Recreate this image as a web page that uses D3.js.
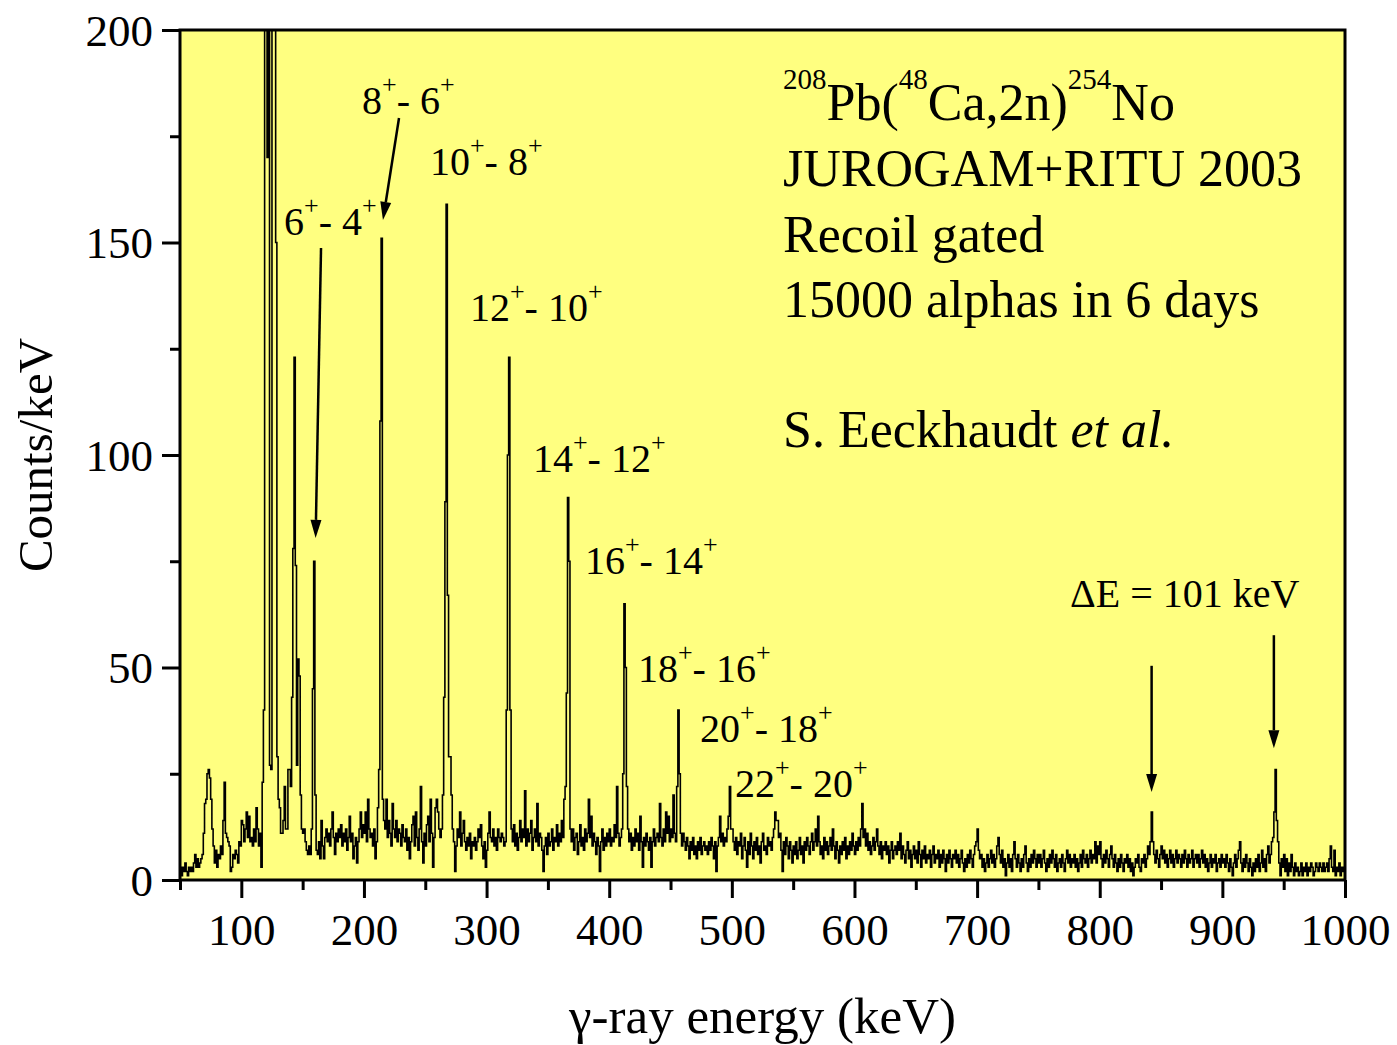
<!DOCTYPE html>
<html>
<head>
<meta charset="utf-8">
<script src="https://cdn.jsdelivr.net/npm/d3@7/dist/d3.min.js"></script>
<style>
    body { margin: 0; background: #ffffff; }
    text { font-family: 'Liberation Serif', 'Times New Roman', serif; fill: #000; }
</style>
</head>
<body>
<svg id="chart" width="1397" height="1045"></svg>
<script>
// spectrum, 1 keV bins, counts per bin starting at 50 keV
var counts050 = [3,1,3,2,4,2,1,3,2,3, 2,4,6,3,5,3,4,5,6,11, 18,19,25,26,24,19,12,8,4,7, 3,6,5,8,6,14,23,11,10,9, 8,2,3,6,5,7,6,4,9,8];
var counts100 = [14,13,9,12,16,10,15,9,10,8, 12,9,17,12,8,11,3,23,40,260, 260,170,260,27,26,260,260,260,150,29, 19,17,11,11,14,22,12,12,26,26, 22,43,78,123,74,27,52,48,20,12];
var counts150 = [11,12,9,7,6,8,6,12,45,75, 20,7,6,9,5,14,8,5,10,12, 9,11,8,12,16,10,6,11,9,12, 10,13,8,11,9,12,7,10,15,9, 11,5,8,10,4,9,12,16,10,13];
var counts200 = [11,16,9,19,12,10,11,8,12,5, 9,17,26,108,151,19,14,12,19,10, 14,11,8,18,12,10,14,9,12,11, 8,13,10,9,12,7,10,5,9,13, 15,8,16,10,7,12,22,9,4,11];
var counts250 = [8,13,15,9,19,11,3,10,17,19, 16,12,10,12,20,43,89,159,67,29, 29,20,12,9,2,8,12,10,16,8, 11,14,9,7,10,8,11,5,9,8, 10,7,9,12,10,13,8,5,9,3];
var counts300 = [7,11,16,10,9,12,8,10,7,12, 10,9,11,10,8,9,40,100,123,40, 12,9,13,8,11,7,10,14,9,12, 10,21,8,12,9,11,14,7,10,12, 9,18,8,11,10,7,2,8,10,6];
var counts350 = [11,8,9,12,7,10,9,13,8,11, 9,14,10,19,22,44,90,75,12,9, 12,7,10,11,6,9,13,8,10,7, 12,9,11,19,10,15,8,11,9,6, 10,8,2,9,12,7,10,8,11,9];
var counts400 = [12,8,10,9,13,10,22,11,8,10, 12,25,65,50,22,12,9,11,7,10, 8,12,9,11,7,15,9,3,10,8, 11,9,7,10,3,9,12,8,10,11, 9,18,10,8,12,9,16,11,15,9];
var counts450 = [12,10,20,11,9,22,40,25,11,8, 11,9,7,10,8,5,9,7,10,6, 8,5,9,7,10,6,8,9,7,8, 6,9,7,10,8,5,9,2,8,10, 15,9,11,8,10,9,12,15,22,12];
var counts500 = [12,9,7,10,6,9,8,11,5,8, 10,7,3,9,6,11,8,5,9,7, 10,6,8,4,9,11,7,8,6,10, 8,9,7,10,12,16,14,14,10,11, 7,2,9,6,10,8,5,9,7,4];
var counts550 = [8,6,9,5,7,10,6,8,4,9, 7,10,8,6,9,11,7,9,12,8, 15,9,6,8,5,10,7,9,6,8, 10,7,12,8,5,9,7,4,8,6, 9,7,10,5,8,6,9,7,11,8];
var counts600 = [6,9,7,10,8,12,18,10,12,8, 11,7,9,6,8,10,7,9,12,8, 6,9,5,8,7,9,6,8,4,7, 9,5,7,8,6,9,7,11,5,8, 6,4,7,9,5,7,3,6,8,5];
var counts650 = [7,4,9,6,3,7,5,8,4,6, 5,7,3,6,8,4,6,5,7,3, 6,4,7,5,2,6,4,7,5,3, 6,5,7,4,6,3,5,7,4,2, 5,3,6,4,7,5,3,6,8,9];
var counts700 = [12,7,5,6,3,5,2,4,6,3, 5,7,4,6,3,5,8,10,6,4, 7,3,5,1,4,6,3,5,2,6, 9,5,3,6,4,2,5,3,6,8, 4,2,5,3,6,4,7,5,3,6];
var counts750 = [4,6,3,5,7,4,2,5,3,6, 4,7,5,3,6,2,4,5,3,6, 4,2,5,7,4,6,3,5,4,6, 3,5,2,4,6,3,7,5,4,6, 3,5,7,4,6,5,9,4,8,6];
var counts800 = [9,5,3,6,4,7,5,3,6,8, 5,3,6,4,2,5,3,6,4,2, 5,4,6,3,5,2,4,1,3,5, 4,6,3,2,5,4,6,3,5,8, 6,9,16,9,6,4,7,5,3,6];
var counts850 = [8,5,7,4,6,3,5,7,4,6, 3,5,7,4,6,5,3,6,4,7, 5,3,6,4,5,7,3,5,6,4, 6,3,5,7,4,6,3,5,2,4, 6,3,5,4,6,2,4,5,3,6];
var counts900 = [4,5,3,6,4,2,5,3,1,4, 6,3,5,7,9,4,2,5,3,6, 4,2,5,3,1,4,2,5,3,6, 2,4,7,3,5,2,6,8,4,6, 9,10,16,26,14,9,4,1,5,3];
var counts950 = [6,2,5,1,4,2,6,3,1,4, 2,3,1,2,4,1,3,2,4,1, 3,2,4,3,1,2,4,3,2,4, 3,2,4,2,3,4,2,5,8,3, 2,7,1,3,2,4,1,3,2,3];

var energyStart = 50;
var counts = [].concat(counts050, counts100, counts150, counts200, counts250, counts300,
    counts350, counts400, counts450, counts500, counts550, counts600, counts650,
    counts700, counts750, counts800, counts850, counts900, counts950);

var xMajorTicks = [100, 200, 300, 400, 500, 600, 700, 800, 900, 1000];
var xMinorTicks = [50, 150, 250, 350, 450, 550, 650, 750, 850, 950];
var yMajorTicks = [0, 50, 100, 150, 200];
var yMinorTicks = [25, 75, 125, 175];

// yrast band transitions: upper spin, lower spin
var transitions = [
    ['6', '4'], ['8', '6'], ['10', '8'], ['12', '10'], ['14', '12'],
    ['16', '14'], ['18', '16'], ['20', '18'], ['22', '20']
];

var infoLines = ['JUROGAM+RITU 2003', 'Recoil gated', '15000 alphas in 6 days'];

// set the dimensions and margins of the graph
var margin = { top: 30, right: 52, bottom: 165, left: 180 };
var width = 1397 - margin.left - margin.right;
var height = 1045 - margin.top - margin.bottom;

var x = d3.scaleLinear().domain([50, 1000]).range([0, width]);
var y = d3.scaleLinear().domain([0, 200]).range([height, 0]);

var svg = d3.select('#chart');

svg.append('defs').append('clipPath')
    .attr('id', 'clip')
    .append('rect')
    .attr('width', width)
    .attr('height', height);

var graph = svg.append('g')
    .attr('transform', 'translate(' + margin.left + ',' + margin.top + ')');

graph.append('rect')
    .attr('width', width)
    .attr('height', height)
    .attr('fill', '#ffff80');

// spectrum as a step line
var points = counts.map(function (c, i) { return { e: energyStart + i, c: c }; });
points.push({ e: 1000, c: counts[counts.length - 1] });

var line = d3.line()
    .curve(d3.curveStepAfter)
    .x(function (d) { return x(d.e); })
    .y(function (d) { return y(d.c); });

graph.append('path')
    .datum(points)
    .attr('clip-path', 'url(#clip)')
    .attr('fill', 'none')
    .attr('stroke', '#000')
    .attr('stroke-width', 1.6)
    .attr('d', line);

// axes
function styleAxis(g) {
    g.select('.domain').remove();
    g.selectAll('line').attr('stroke', '#000').attr('stroke-width', 3);
    g.selectAll('text').style('font-size', '45px').attr('fill', '#000');
}

graph.append('g')
    .attr('transform', 'translate(0,' + height + ')')
    .call(d3.axisBottom(x).tickValues(xMinorTicks).tickSize(10).tickFormat(''))
    .call(styleAxis);

var xAxisG = graph.append('g')
    .attr('transform', 'translate(0,' + height + ')')
    .call(d3.axisBottom(x).tickValues(xMajorTicks).tickSize(18).tickFormat(d3.format('d')))
    .call(styleAxis);
xAxisG.selectAll('text').attr('y', 65).attr('dy', 0);

graph.append('g')
    .call(d3.axisLeft(y).tickValues(yMinorTicks).tickSize(10).tickFormat(''))
    .call(styleAxis);

var yAxisG = graph.append('g')
    .call(d3.axisLeft(y).tickValues(yMajorTicks).tickSize(18).tickFormat(d3.format('d')))
    .call(styleAxis);
yAxisG.selectAll('text').attr('x', -27).attr('dy', '0.34em');

// frame
graph.append('rect')
    .attr('width', width)
    .attr('height', height)
    .attr('fill', 'none')
    .attr('stroke', '#000')
    .attr('stroke-width', 3);

// axis titles
svg.append('text')
    .attr('transform', 'translate(52,' + (margin.top + height / 2) + ') rotate(-90)')
    .attr('text-anchor', 'middle')
    .style('font-size', '49px')
    .text('Counts/keV');

svg.append('text')
    .attr('x', margin.left + width / 2)
    .attr('y', 1033)
    .attr('text-anchor', 'middle')
    .style('font-size', '51px')
    .text('\u03b3-ray energy (keV)');

// text with superscripts: parts = [[text, isSup, isItalic], ...]
function richText(parent, px, py, parts, size, supSize, rise) {
    var t = parent.append('text')
        .attr('x', px)
        .attr('y', py)
        .style('font-size', size + 'px');
    var raised = false;
    parts.forEach(function (p) {
        var ts = t.append('tspan').text(p[0]);
        if (p[1] && !raised) {
            ts.attr('dy', -rise).style('font-size', supSize + 'px');
            raised = true;
        } else if (p[1]) {
            ts.style('font-size', supSize + 'px');
        } else if (raised) {
            ts.attr('dy', rise);
            raised = false;
        }
        if (p[2]) ts.style('font-style', 'italic');
    });
    return t;
}

// transition labels, placed in energy / counts units
var labelPos = [
    [134.8, 151.8], [198.4, 180.2], [253.8, 165.9], [286.4, 131.5], [337.8, 96.0],
    [380.2, 72.0], [423.4, 46.6], [474.0, 32.5], [502.5, 19.5]
];
var annot = graph.append('g').attr('class', 'annotations');
transitions.forEach(function (tr, i) {
    richText(annot, x(labelPos[i][0]), y(labelPos[i][1]),
        [[tr[0]], ['+', true], ['- ' + tr[1]], ['+', true]], 40, 26, 21);
});

annot.append('text')
    .attr('x', x(775.8))
    .attr('y', y(64.2))
    .style('font-size', '40px')
    .text('\u0394E = 101 keV');

// arrows (energy, counts) from -> to
var arrows = [
    [[228.6, 179.3], [215.5, 155.3]],
    [[165.0, 148.7], [160.6, 80.5]],
    [[842.3, 50.4], [842.3, 20.7]],
    [[942.0, 57.6], [942.0, 31.0]]
];
arrows.forEach(function (a) {
    var x1 = x(a[0][0]), y1 = y(a[0][1]), x2 = x(a[1][0]), y2 = y(a[1][1]);
    var dx = x2 - x1, dy = y2 - y1, len = Math.sqrt(dx * dx + dy * dy);
    var ux = dx / len, uy = dy / len, headL = 18, headW = 5.5;
    var bx = x2 - ux * headL, by = y2 - uy * headL;
    annot.append('line')
        .attr('x1', x1).attr('y1', y1).attr('x2', bx).attr('y2', by)
        .attr('stroke', '#000').attr('stroke-width', 2.5);
    annot.append('path')
        .attr('d', 'M' + x2 + ',' + y2 +
            'L' + (bx - uy * headW) + ',' + (by + ux * headW) +
            'L' + (bx + uy * headW) + ',' + (by - ux * headW) + 'Z')
        .attr('fill', '#000');
});

// reaction / info block
var info = svg.append('g');
richText(info, 783, 120,
    [['208', true], ['Pb('], ['48', true], ['Ca,2n)'], ['254', true], ['No']], 52, 29, 31);
infoLines.forEach(function (s, i) {
    info.append('text')
        .attr('x', 783)
        .attr('y', 186 + i * 65.5)
        .style('font-size', '52px')
        .text(s);
});
richText(info, 783, 447, [['S. Eeckhaudt '], ['et al.', false, true]], 52, 29, 31);
</script>
</body>
</html>
